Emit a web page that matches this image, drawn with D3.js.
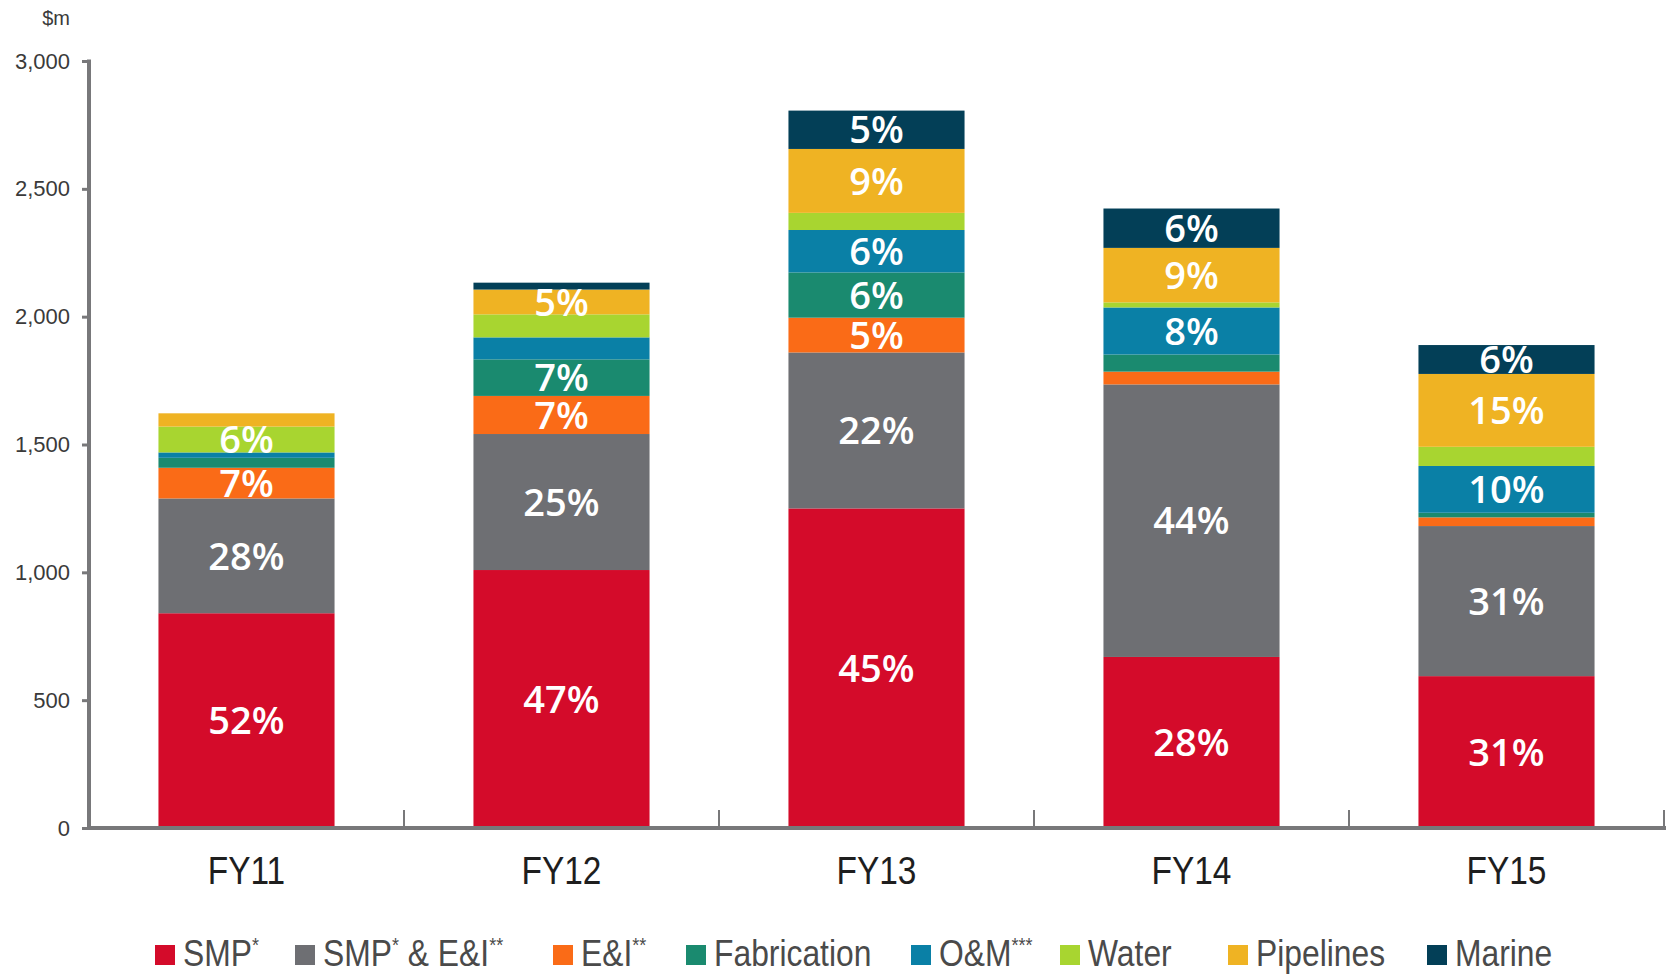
<!DOCTYPE html>
<html>
<head>
<meta charset="utf-8">
<script src="https://cdn.jsdelivr.net/npm/d3@7"></script>
<style>
  html, body { margin: 0; padding: 0; background: #fff; }
  svg { display: block; }
</style>
</head>
<body>
<div id="chart"></div>
<script>
// ---------------- DATA ----------------
const categories = ["FY11", "FY12", "FY13", "FY14", "FY15"];
const smp         = [840, 1009, 1250,  669, 594];
const smpEI       = [449,  532,  610, 1066, 587];
const ei          = [120,  149,  136,   50,  34];
const fabrication = [ 39,  143,  177,   67,  18];
const om          = [ 21,   86,  166,  184, 183];
const water       = [101,   90,   67,   20,  75];
const pipelines   = [ 52,   97,  250,  213, 285];
const marine      = [  0,   27,  150,  154, 113];

const smpLabels       = ["52%", "47%", "45%", "28%", "31%"];
const smpEILabels     = ["28%", "25%", "22%", "44%", "31%"];
const eiLabels        = ["7%", "7%", "5%", null, null];
const fabLabels       = [null, "7%", "6%", null, null];
const omLabels        = [null, null, "6%", "8%", "10%"];
const waterLabels     = ["6%", null, null, null, null];
const pipelinesLabels = [null, "5%", "9%", "9%", "15%"];
const marineLabels    = [null, null, "5%", "6%", "6%"];

const yTicks = [0, 500, 1000, 1500, 2000, 2500, 3000];
const yUnit = "$m";

const seriesKeys = ["smp", "smpEI", "ei", "fabrication", "om", "water", "pipelines", "marine"];
const seriesValues = [smp, smpEI, ei, fabrication, om, water, pipelines, marine];
const seriesLabels = [smpLabels, smpEILabels, eiLabels, fabLabels, omLabels, waterLabels, pipelinesLabels, marineLabels];
// legend names as [text, superscript] parts
const legendNames = [
  [["SMP", false], ["*", true]],
  [["SMP", false], ["*", true], [" & E&I", false], ["**", true]],
  [["E&I", false], ["**", true]],
  [["Fabrication", false]],
  [["O&M", false], ["***", true]],
  [["Water", false]],
  [["Pipelines", false]],
  [["Marine", false]]
];
const colors = ["#D40B2A", "#6E6F73", "#FA6B17", "#1A8A6F", "#0A80A6", "#A8D530", "#EFB323", "#033F57"];

// ---------------- LAYOUT ----------------
const W = 1673, H = 976;
const axisX = 89, axisRight = 1664;
const yTop = 61, yBottom = 828;
const axisColor = "#78787a";
const condensedFont = "'Liberation Sans', Arial, sans-serif";

const svg = d3.select("#chart").append("svg").attr("width", W).attr("height", H);

const x = d3.scaleBand().domain(categories).range([axisX, axisRight])
  .paddingInner(0.441).paddingOuter(0.2205);
const y = d3.scaleLinear().domain([0, 3000]).range([yBottom, yTop]);

// build table for stack
const table = categories.map((c, i) => {
  const row = { cat: c };
  seriesKeys.forEach((k, j) => row[k] = seriesValues[j][i]);
  return row;
});
const stacked = d3.stack().keys(seriesKeys)(table);

// bars
const layers = svg.append("g").selectAll("g").data(stacked).join("g")
  .attr("fill", (d, i) => colors[i]);
layers.selectAll("rect").data(d => d).join("rect")
  .attr("x", d => x(d.data.cat))
  .attr("width", x.bandwidth())
  .attr("y", d => y(d[1]))
  .attr("height", d => Math.max(0, y(d[0]) - y(d[1])));

// percentage labels
const labelG = svg.append("g");
stacked.forEach((layer, si) => {
  layer.forEach((d, ci) => {
    const lab = seriesLabels[si][ci];
    if (!lab) return;
    labelG.append("text")
      .attr("x", x(d.data.cat) + x.bandwidth() / 2)
      .attr("y", (y(d[0]) + y(d[1])) / 2)
      .attr("dy", "0.36em")
      .attr("text-anchor", "middle")
      .attr("fill", "#fff")
      .style("font-family", "'Open Sans', 'Noto Sans', sans-serif")
      .style("font-weight", 600)
      .style("font-size", "38px")
      .text(lab);
  });
});

// y axis
const yAxis = d3.axisLeft(y).tickValues(yTicks).tickSize(7).tickPadding(12)
  .tickFormat(d3.format(","));
const gy = svg.append("g").attr("transform", `translate(${axisX},0)`).call(yAxis);
gy.select(".domain").remove();
gy.selectAll(".tick line").attr("stroke", axisColor).attr("stroke-width", 3);
gy.selectAll(".tick text")
  .attr("fill", "#3a3a3a")
  .style("font-family", "'Liberation Sans', Arial, sans-serif")
  .style("font-size", "22px");
svg.append("line")
  .attr("x1", axisX).attr("x2", axisX)
  .attr("y1", y(3000) - 1.5).attr("y2", yBottom + 2)
  .attr("stroke", axisColor).attr("stroke-width", 4);

svg.append("text")
  .attr("x", 70).attr("y", 25)
  .attr("text-anchor", "end")
  .attr("fill", "#3a3a3a")
  .style("font-family", "'Liberation Sans', Arial, sans-serif")
  .style("font-size", "20px")
  .text(yUnit);

// x axis
svg.append("line")
  .attr("x1", axisX - 2).attr("x2", axisRight + 2)
  .attr("y1", yBottom).attr("y2", yBottom)
  .attr("stroke", axisColor).attr("stroke-width", 4);
categories.forEach((c, i) => {
  const bx = x.range()[0] + (i + 1) * x.step();
  svg.append("line")
    .attr("x1", bx).attr("x2", bx)
    .attr("y1", yBottom).attr("y2", yBottom - 18)
    .attr("stroke", axisColor).attr("stroke-width", 2);
});
const xLabelG = svg.append("g");
categories.forEach(c => {
  xLabelG.append("text")
    .attr("transform", `translate(${x(c) + x.bandwidth() / 2},884) scale(0.88,1)`)
    .attr("text-anchor", "middle")
    .attr("fill", "#1e1e1e")
    .style("font-family", condensedFont)
    .style("font-size", "38px")
    .text(c);
});

// legend
const legendX = [155, 295, 553, 686, 911, 1060, 1228, 1427];
const legendY = 966;
const lg = svg.append("g");
legendNames.forEach((parts, i) => {
  const g = lg.append("g").attr("transform", `translate(${legendX[i]},0)`);
  g.append("rect").attr("x", 0).attr("y", legendY - 21).attr("width", 20).attr("height", 20)
    .attr("fill", colors[i]);
  const t = g.append("text")
    .attr("transform", `translate(28,${legendY}) scale(0.86,1)`)
    .attr("fill", "#4a4a4a")
    .style("font-family", condensedFont)
    .style("font-size", "37px");
  let prevSup = false;
  parts.forEach(([txt, sup]) => {
    const ts = t.append("tspan").text(txt);
    if (sup) {
      ts.attr("dy", -14).style("font-size", "21px");
    } else if (prevSup) {
      ts.attr("dy", 14);
    }
    prevSup = sup;
  });
});
</script>
</body>
</html>
